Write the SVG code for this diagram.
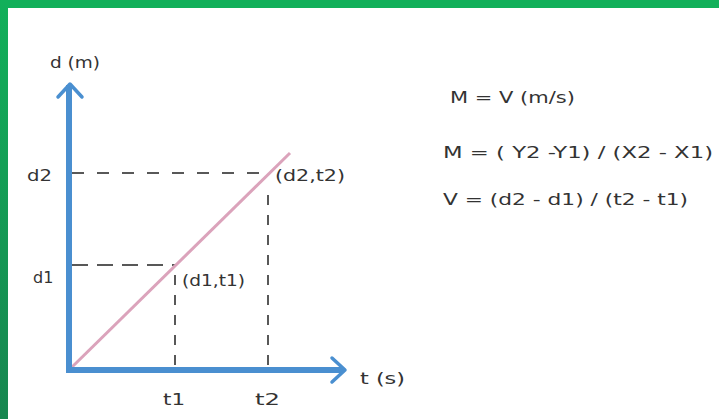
<svg xmlns="http://www.w3.org/2000/svg" width="719" height="419" viewBox="0 0 719 419">
<defs>
<linearGradient id="gl" x1="0" y1="0" x2="0" y2="1">
<stop offset="0" stop-color="#12b05a"/>
<stop offset="1" stop-color="#178650"/>
</linearGradient>
<style>
.t{font-family:"DejaVu Sans","Liberation Sans",sans-serif;font-size:16px;fill:#333;}
.ax{stroke:#4a8fd0;stroke-width:6;fill:none;stroke-linecap:square;}
.ah{stroke:#4a8fd0;stroke-width:3.5;fill:none;stroke-linecap:round;stroke-linejoin:round;}
.dh{stroke:#222;stroke-width:1.5;fill:none;stroke-dasharray:12 13;}
.dv{stroke:#222;stroke-width:1.5;fill:none;stroke-dasharray:10 10;}
</style>
</defs>
<rect x="0" y="0" width="719" height="419" fill="#ffffff"/>
<rect x="0" y="0" width="719" height="8" fill="#12b05a"/>
<rect x="0" y="0" width="8" height="419" fill="url(#gl)"/>
<g id="connectors">
<line class="dh" x1="72" y1="173" x2="268" y2="173"/>
<line class="dv" x1="268" y1="195" x2="268" y2="368"/>
<line class="dh" x1="72" y1="265" x2="175" y2="265" style="stroke-dasharray:16 9"/>
<line class="dv" x1="175" y1="275" x2="175" y2="368"/>
<line x1="69" y1="370" x2="290" y2="153" stroke="#dba3bb" stroke-width="3"/>
</g>
<g id="y-axis">
<line class="ax" x1="69" y1="370" x2="69" y2="88"/>
<polyline class="ah" points="58,97 70,84 82,97"/>
<text class="t" x="50" y="68" textLength="50" lengthAdjust="spacingAndGlyphs">d (m)</text>
</g>
<g id="x-axis">
<line class="ax" x1="69" y1="370" x2="341" y2="370"/>
<polyline class="ah" points="332,358 345,370 332,382"/>
<text class="t" x="360" y="384" textLength="45" lengthAdjust="spacingAndGlyphs">t (s)</text>
</g>
<g id="labels">
<text class="t" x="27" y="181" textLength="25" lengthAdjust="spacingAndGlyphs">d2</text>
<text class="t" x="33" y="283">d1</text>
<text class="t" x="275" y="181" textLength="70" lengthAdjust="spacingAndGlyphs">(d2,t2)</text>
<text class="t" x="182" y="286" textLength="63" lengthAdjust="spacingAndGlyphs">(d1,t1)</text>
<text class="t" x="163" y="405" textLength="22" lengthAdjust="spacingAndGlyphs">t1</text>
<text class="t" x="255" y="405" textLength="25" lengthAdjust="spacingAndGlyphs">t2</text>
</g>
<g id="formulas">
<text class="t" x="450" y="103" textLength="125" lengthAdjust="spacingAndGlyphs">M = V (m/s)</text>
<text class="t" x="443" y="158" textLength="270" lengthAdjust="spacingAndGlyphs">M = ( Y2 -Y1) / (X2 - X1)</text>
<text class="t" x="443" y="205" textLength="245" lengthAdjust="spacingAndGlyphs">V = (d2 - d1) / (t2 - t1)</text>
</g>
</svg>
